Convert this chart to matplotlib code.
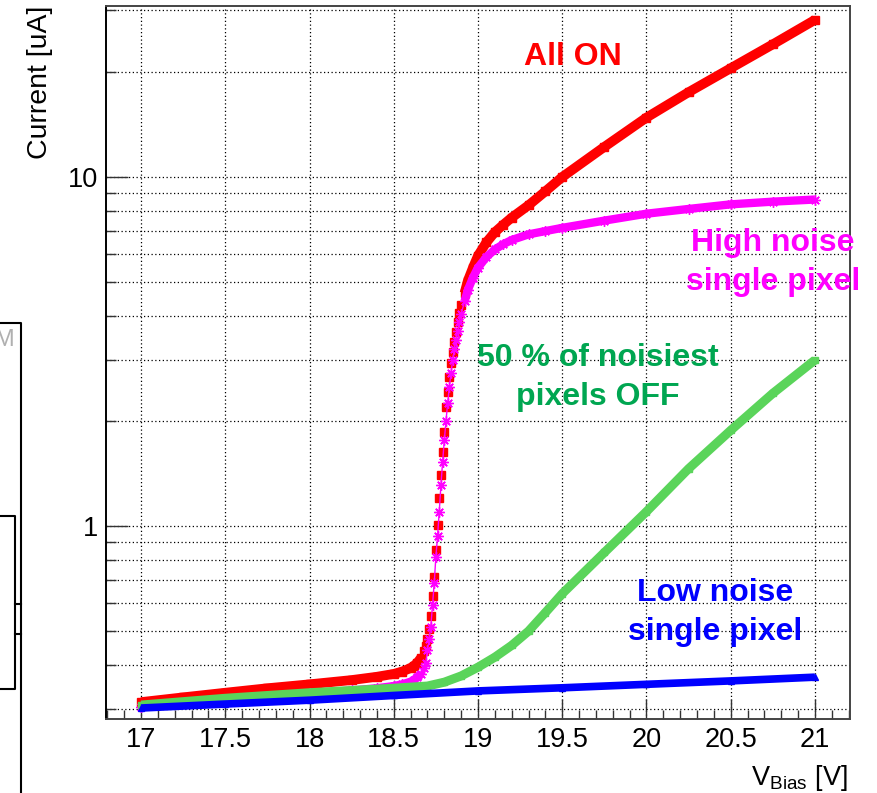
import numpy as np
import matplotlib.pyplot as plt
from matplotlib.lines import Line2D
from matplotlib.ticker import MultipleLocator, LogLocator, NullFormatter, FixedLocator, FixedFormatter

plt.rcParams['font.family'] = ['Liberation Sans', 'DejaVu Sans']
plt.rcParams['mathtext.fontset'] = 'custom'
plt.rcParams['mathtext.rm'] = 'Liberation Sans'

# I-V scans, bias voltage [V] vs current [uA]
v_all = [17.0, 17.25, 17.5, 17.75, 18.0, 18.25, 18.4, 18.5, 18.55,
         18.6, 18.62, 18.64, 18.66, 18.68,
         18.69, 18.70, 18.71, 18.72, 18.73, 18.74, 18.75, 18.76, 18.77, 18.78, 18.79,
         18.80, 18.81, 18.82, 18.83, 18.84, 18.85, 18.86, 18.87, 18.88, 18.89, 18.90,
         18.92, 18.94, 18.97, 19.0, 19.05, 19.1, 19.15, 19.2, 19.3, 19.4, 19.5,
         19.75, 20.0, 20.25, 20.5, 20.75, 21.0]
i_all = [0.313, 0.323, 0.333, 0.343, 0.352, 0.362, 0.370, 0.377, 0.383,
         0.392, 0.398, 0.406, 0.418, 0.438,
         0.452, 0.475, 0.507, 0.553, 0.632, 0.716, 0.854, 1.01, 1.20, 1.40, 1.63,
         1.86, 2.20, 2.42, 2.68, 2.93, 3.16, 3.37, 3.60, 3.84, 4.08, 4.30,
         4.65, 5.05, 5.5, 5.95, 6.5, 6.95, 7.3, 7.65, 8.3, 9.1, 10.0,
         12.2, 14.8, 17.5, 20.5, 24.0, 28.2]

v_high = v_all
i_high = [0.303, 0.311, 0.318, 0.325, 0.332, 0.338, 0.343, 0.348, 0.352,
          0.358, 0.363, 0.369, 0.378, 0.392,
          0.405, 0.440, 0.476, 0.515, 0.594, 0.685, 0.817, 0.936, 1.10, 1.31, 1.53,
          1.76, 2.00, 2.25, 2.50, 2.75, 3.00, 3.22, 3.42, 3.62, 3.85, 4.05,
          4.40, 4.75, 5.15, 5.5, 5.9, 6.2, 6.42, 6.6, 6.85, 7.0, 7.15,
          7.5, 7.85, 8.1, 8.35, 8.5, 8.62]

v_off = [17.0, 17.5, 18.0, 18.5, 18.7, 18.8, 18.9, 19.0, 19.1, 19.2, 19.3, 19.4,
         19.5, 19.75, 20.0, 20.25, 20.5, 20.75, 21.0]
i_off = [0.307, 0.321, 0.333, 0.343, 0.348, 0.357, 0.372, 0.394, 0.421, 0.455, 0.500, 0.565,
         0.640, 0.84, 1.10, 1.46, 1.88, 2.40, 2.99]

v_low = [17.0, 17.5, 18.0, 18.5, 19.0, 19.5, 20.0, 20.5, 21.0]
i_low = [0.301, 0.309, 0.317, 0.327, 0.337, 0.344, 0.352, 0.360, 0.369]

W, H = 877, 793
fig = plt.figure(figsize=(W / 100, H / 100), dpi=100)
ax = fig.add_axes([106 / W, 1 - 719 / H, (850 - 106) / W, (719 - 6) / H])


def draw_scan(v, i, color, marker, ms, band_lw, breakdown=False, thin=False, mew=1.0):
    v = np.asarray(v)
    i = np.asarray(i, dtype=float)
    band = i
    if breakdown:
        # single points stay visible on the steep part of the curve
        steep = (v > 18.66) & (v < 18.92)
        band = np.where(steep, np.nan, i)
    ax.plot(v, band, color=color, lw=band_lw, solid_capstyle='butt', zorder=3)
    if thin:
        ax.plot(v, i, color=color, lw=1.0, zorder=3)
    ax.plot(v, i, ls='none', marker=marker, ms=ms, color=color, mec=color, mew=mew, zorder=3)


draw_scan(v_all, i_all, '#ff0000', 's', 5.4, 7.0, breakdown=True)
draw_scan(v_high, i_high, '#ff00ff', (8, 2, 0), 7.5, 6.0, breakdown=True, thin=True)
draw_scan(v_off, i_off, '#5ad45a', 's', 5.0, 6.5)
draw_scan(v_low, i_low, '#0000ff', '^', 5.0, 5.5)

ax.set_yscale('log')
ax.set_xlim(16.792, 21.208)
ax.set_ylim(0.28, 30.9)

ax.xaxis.set_major_locator(MultipleLocator(0.5))
ax.xaxis.set_minor_locator(MultipleLocator(0.1))
ax.xaxis.set_major_formatter(plt.FuncFormatter(lambda x, p: f'{x:g}'))
ax.yaxis.set_major_locator(FixedLocator([1, 10]))
ax.yaxis.set_major_formatter(FixedFormatter(['1', '10']))
ax.yaxis.set_minor_locator(LogLocator(base=10, subs=np.arange(2, 10)))
ax.yaxis.set_minor_formatter(NullFormatter())

ax.tick_params(which='both', direction='in', color='#333333', width=1.0,
               labelsize=19.5, top=False, right=False)
ax.tick_params(axis='x', which='major', length=14.5, pad=6)
ax.tick_params(axis='x', which='minor', length=6.5)
ax.tick_params(axis='y', which='major', length=16, pad=6)
ax.tick_params(axis='y', which='minor', length=7)

grid_style = dict(color='black', lw=0.9, ls=(0, (1, 2)))
ax.grid(True, axis='x', which='major', **grid_style)
ax.grid(True, axis='y', which='both', **grid_style)
ax.set_axisbelow(True)

for side in ax.spines.values():
    side.set_color('#444444')
    side.set_linewidth(1.4)
ax.spines['left'].set_color('black')

fig.text(40 / W, 1 - 6 / H, 'Current [uA]', rotation=90, ha='center', va='top', fontsize=20.5)
fig.text(848 / W, 1 - 785 / H, r'V$_{\mathrm{Bias}}$ [V]', ha='right', va='baseline', fontsize=19.5)

label_kw = dict(ha='center', va='center', fontsize=23, fontweight='bold', linespacing=1.38)
ax.text(19.564, 22.1, 'All ON', color='#ff0000', **label_kw)
ax.text(20.75, 5.7, 'High noise\nsingle pixel', color='#ff00ff', **label_kw)
ax.text(19.71, 2.67, '50 % of noisiest\npixels OFF', color='#00a651', **label_kw)
ax.text(20.41, 0.565, 'Low noise\nsingle pixel', color='#0000ff', **label_kw)

# edge of the neighbouring panel at the left border
def px_line(xs, ys, **kw):
    fig.add_artist(Line2D([x / W for x in xs], [1 - y / H for y in ys],
                          transform=fig.transFigure, color='black', lw=1.5, **kw))

px_line([-5, 21, 21], [323, 323, 792])
px_line([-5, 15, 15, -5], [516, 516, 689, 689])
px_line([15, 21], [604, 604])
px_line([15, 21], [634, 634])
fig.text(-6 / W, 1 - 340 / H, 'M', color='#b0b0b0', fontsize=17, ha='left', va='center')

fig.savefig('out.png', dpi=100)
